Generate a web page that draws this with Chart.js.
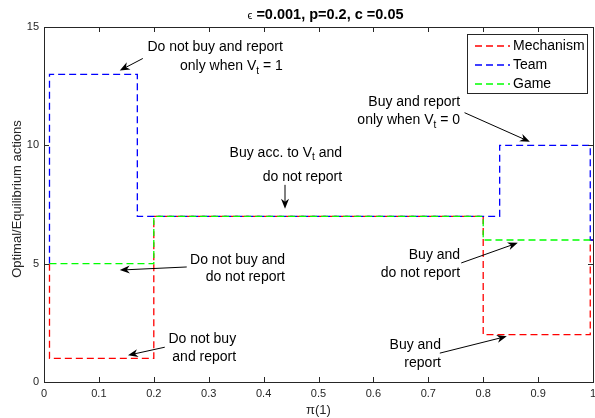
<!DOCTYPE html>
<html>
<head>
<meta charset="utf-8">
<script src="https://cdn.jsdelivr.net/npm/chart.js@4.4.1/dist/chart.umd.min.js"></script>
<style>
  html, body { margin: 0; padding: 0; background: #fff; }
</style>
</head>
<body>
<canvas id="chartCanvas" width="595" height="418"></canvas>
<script>
// ================= DATA =================

// step breakpoints (x = pi(1), y = action index)
const mechanismX = [0.01, 0.01, 0.2, 0.8, 0.995, 1];
const mechanismY = [5, 1, 7, 2, 6, 6];
const teamX = [0.01, 0.01, 0.17, 0.83, 0.995, 1];
const teamY = [5, 13, 7, 10, 6, 6];
const gameX = [0.01, 0.2, 0.8, 1];
const gameY = [5, 7, 6, 6];

const xTicks = [0, 0.1, 0.2, 0.3, 0.4, 0.5, 0.6, 0.7, 0.8, 0.9, 1];
const yTicks = [0, 5, 10, 15];

const seriesNames = ["Mechanism", "Team", "Game"];
const seriesColors = ["#ff0000", "#0000ff", "#00ff00"];

// text boxes with arrows, in data units
const notes = [
    { lines: ["Do not buy and report", "only when V_t = 1"], at: [0.435, 14.14], gap: 19, from: [0.180, 13.67], to: [0.138, 13.16] },
    { lines: ["Buy and report", "only when V_t = 0"], at: [0.758, 11.81], gap: 18, from: [0.766, 11.38], to: [0.885, 10.15] },
    { lines: ["Buy acc. to V_t and", "do not report"], at: [0.543, 9.69], gap: 24, from: [0.439, 8.33], to: [0.439, 7.32] },
    { lines: ["Do not buy and", "do not report"], at: [0.439, 5.16], gap: 17, from: [0.260, 4.86], to: [0.138, 4.73] },
    { lines: ["Do not buy", "and report"], at: [0.350, 1.81], gap: 18, from: [0.220, 1.47], to: [0.153, 1.13] },
    { lines: ["Buy and", "do not report"], at: [0.758, 5.37], gap: 18, from: [0.760, 5.03], to: [0.863, 5.88] },
    { lines: ["Buy and", "report"], at: [0.723, 1.56], gap: 18, from: [0.721, 1.22], to: [0.843, 1.93] }
];

const FONT = "'Liberation Sans', Arial, Helvetica, sans-serif";
const AXIS = "#262626";

function pts(xs, ys) {
    return xs.map((x, i) => ({ x: x, y: ys[i] }));
}

// ================= DRAW HELPERS =================

// text with "_t" subscript, drawn right aligned ending at x
function subText(ctx, str, x, y, size) {
    const parts = str.split("_t");
    const subFont = Math.round(size * 0.72) + "px " + FONT;
    let w = 0;
    parts.forEach((p, i) => {
        ctx.font = size + "px " + FONT;
        w += ctx.measureText(p).width;
        if (i < parts.length - 1) {
            ctx.font = subFont;
            w += ctx.measureText("t").width;
        }
    });
    let cx = x - w;
    parts.forEach((p, i) => {
        ctx.font = size + "px " + FONT;
        ctx.fillText(p, cx, y);
        cx += ctx.measureText(p).width;
        if (i < parts.length - 1) {
            ctx.font = subFont;
            ctx.fillText("t", cx, y + 5);
            cx += ctx.measureText("t").width;
        }
    });
}

function arrow(ctx, x1, y1, x2, y2) {
    const a = Math.atan2(y2 - y1, x2 - x1);
    const len = 10, half = 4;
    ctx.beginPath();
    ctx.moveTo(x1, y1);
    ctx.lineTo(x2 - Math.cos(a) * 6, y2 - Math.sin(a) * 6);
    ctx.stroke();
    ctx.beginPath();
    ctx.moveTo(x2, y2);
    ctx.lineTo(x2 - Math.cos(a) * len - Math.sin(a) * half, y2 - Math.sin(a) * len + Math.cos(a) * half);
    ctx.lineTo(x2 - Math.cos(a) * 7, y2 - Math.sin(a) * 7);
    ctx.lineTo(x2 - Math.cos(a) * len + Math.sin(a) * half, y2 - Math.sin(a) * len - Math.cos(a) * half);
    ctx.closePath();
    ctx.fill();
}

// ================= PLUGIN: box, ticks, legend, notes =================

const decor = {
    id: "decor",
    afterDraw(c) {
        const ctx = c.ctx;
        const a = c.chartArea;
        const xs = c.scales.x, ys = c.scales.y;
        ctx.save();

        // box
        ctx.strokeStyle = AXIS;
        ctx.lineWidth = 1;
        ctx.strokeRect(Math.round(a.left) + 0.5, Math.round(a.top) + 0.5,
            Math.round(a.right - a.left), Math.round(a.bottom - a.top));

        // inward ticks
        ctx.beginPath();
        xTicks.forEach(v => {
            const px = Math.round(xs.getPixelForValue(v)) + 0.5;
            ctx.moveTo(px, a.bottom); ctx.lineTo(px, a.bottom - 5);
            ctx.moveTo(px, a.top); ctx.lineTo(px, a.top + 5);
        });
        yTicks.forEach(v => {
            const py = Math.round(ys.getPixelForValue(v)) + 0.5;
            ctx.moveTo(a.left, py); ctx.lineTo(a.left + 5, py);
            ctx.moveTo(a.right, py); ctx.lineTo(a.right - 5, py);
        });
        ctx.stroke();

        // title
        ctx.fillStyle = "#000";
        ctx.textBaseline = "middle";
        ctx.textAlign = "left";
        const tMain = " =0.001, p=0.2, c =0.05";
        ctx.font = "bold 14.5px " + FONT;
        const wMain = ctx.measureText(tMain).width;
        ctx.font = "11px " + FONT;
        const wEps = ctx.measureText("\u03f5").width;
        let tx = (a.left + a.right) / 2 + 7 - (wMain + wEps) / 2;
        ctx.fillText("\u03f5", tx, 16);
        ctx.font = "bold 14.5px " + FONT;
        ctx.fillText(tMain, tx + wEps, 15);

        // axis titles
        ctx.fillStyle = AXIS;
        ctx.font = "13px " + FONT;
        ctx.textAlign = "center";
        ctx.fillText("\u03c0(1)", (a.left + a.right) / 2, 410);
        ctx.save();
        ctx.translate(17, 199);
        ctx.rotate(-Math.PI / 2);
        ctx.fillText("Optimal/Equilibrium actions", 0, 0);
        ctx.restore();

        // legend
        ctx.fillStyle = "#fff";
        ctx.fillRect(467.5, 34.5, 120, 59);
        ctx.strokeStyle = AXIS;
        ctx.strokeRect(467.5, 34.5, 120, 59);
        seriesNames.forEach((name, i) => {
            const ly = 46 + i * 19;
            ctx.strokeStyle = seriesColors[i];
            ctx.lineWidth = 1.3;
            ctx.setLineDash([7, 4]);
            ctx.beginPath();
            ctx.moveTo(475, ly); ctx.lineTo(510, ly);
            ctx.stroke();
            ctx.setLineDash([]);
            ctx.fillStyle = "#000";
            ctx.textAlign = "left";
            ctx.font = "14px " + FONT;
            ctx.fillText(name, 513, ly);
        });

        // notes + arrows
        ctx.fillStyle = "#000";
        ctx.strokeStyle = "#000";
        ctx.lineWidth = 1;
        ctx.textAlign = "left";
        notes.forEach(n => {
            const px = xs.getPixelForValue(n.at[0]);
            const py = ys.getPixelForValue(n.at[1]);
            n.lines.forEach((ln, i) => subText(ctx, ln, px, py + i * n.gap, 14));
            arrow(ctx, xs.getPixelForValue(n.from[0]), ys.getPixelForValue(n.from[1]),
                xs.getPixelForValue(n.to[0]), ys.getPixelForValue(n.to[1]));
        });

        ctx.restore();
    }
};

// ================= INIT =================

function lineSet(name, data, color, order) {
    return {
        label: name,
        data: data,
        borderColor: color,
        borderWidth: 1.3,
        borderDash: [7, 4],
        stepped: true,
        pointRadius: 0,
        fill: false,
        order: order
    };
}

const chart = new Chart(document.getElementById("chartCanvas"), {
    type: "line",
    data: {
        datasets: [
            lineSet(seriesNames[0], pts(mechanismX, mechanismY), seriesColors[0], 3),
            lineSet(seriesNames[1], pts(teamX, teamY), seriesColors[1], 2),
            lineSet(seriesNames[2], pts(gameX, gameY), seriesColors[2], 1)
        ]
    },
    options: {
        responsive: false,
        animation: false,
        devicePixelRatio: 1,
        layout: { padding: { top: 27, right: 2, left: 0, bottom: 0 } },
        plugins: {
            legend: { display: false },
            tooltip: { enabled: false },
            title: { display: false }
        },
        scales: {
            x: {
                type: "linear",
                min: 0, max: 1,
                afterBuildTicks: s => { s.ticks = xTicks.map(v => ({ value: v })); },
                afterFit: s => { s.height = 36; s.paddingRight = 0; s.paddingLeft = 0; },
                grid: { display: false, drawTicks: false },
                border: { display: false },
                ticks: {
                    color: AXIS, padding: 5, maxRotation: 0, autoSkip: false,
                    font: { family: FONT, size: 11 },
                    callback: v => String(v)
                }
            },
            y: {
                type: "linear",
                min: 0, max: 15,
                afterBuildTicks: s => { s.ticks = yTicks.map(v => ({ value: v })); },
                afterFit: s => { s.width = 44; s.paddingTop = 0; s.paddingBottom = 0; },
                grid: { display: false, drawTicks: false },
                border: { display: false },
                ticks: {
                    color: AXIS, padding: 5,
                    font: { family: FONT, size: 11 },
                    callback: v => String(v)
                }
            }
        }
    },
    plugins: [decor]
});
</script>
</body>
</html>
